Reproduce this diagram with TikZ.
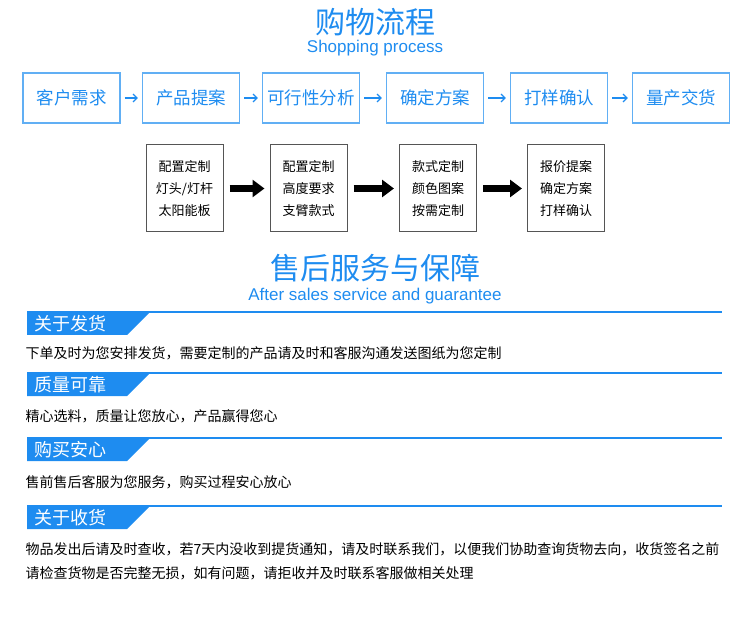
\documentclass[tikz,border=0pt]{standalone}
\usepackage{fontspec}
\usetikzlibrary{arrows.meta}
\setmainfont{Noto Sans CJK SC}
\setsansfont{Liberation Sans}
\definecolor{shopblue}{HTML}{1E8CF0}
\definecolor{boxgray}{HTML}{555555}
\tikzset{
  stepbox/.style={draw=shopblue!70, line width=1.2pt, minimum width=97pt, minimum height=50pt, font=\fontsize{17.5}{17.5}\selectfont, text=shopblue},
  detailbox/.style={draw=boxgray, line width=1pt, minimum width=77pt, minimum height=87pt, font=\fontsize{13}{22}\selectfont, align=center},
  banner/.style={text=white, font=\fontsize{18}{18}\selectfont, anchor=west, inner sep=0pt},
  bodytext/.style={anchor=west, font=\fontsize{14}{24}\selectfont, align=left},
  bigarrow/.style={-{Triangle[length=12pt,width=17pt]}, line width=7pt},
}
\begin{document}
\begin{tikzpicture}[x=1pt,y=-1pt]
\useasboundingbox (0,0) rectangle (750,620);
% titles
\node (title1) at (375,22) {\fontsize{30}{30}\selectfont\color{shopblue}购物流程};
\node (sub1) at (375,48) {\fontsize{17}{17}\selectfont\sffamily\color{shopblue}Shopping process};
% steps
\node[stepbox] (s1) at (71.5,98) {客户需求};
\node[stepbox] (s2) at (191,98) {产品提案};
\node[stepbox] (s3) at (311,98) {可行性分析};
\node[stepbox] (s4) at (435,98) {确定方案};
\node[stepbox] (s5) at (559,98) {打样确认};
\node[stepbox] (s6) at (681,98) {量产交货};
\foreach \a/\b in {s1/s2,s2/s3,s3/s4,s4/s5,s5/s6}
  \draw[shopblue, line width=1.2pt, -{Straight Barb[length=4pt]}, shorten <=4pt, shorten >=4pt] (\a) -- (\b);
% details
\node[detailbox] (d1) at (184.5,188.5) {配置定制\\灯头/灯杆\\太阳能板};
\node[detailbox] (d2) at (308.5,188.5) {配置定制\\高度要求\\支臂款式};
\node[detailbox] (d3) at (438,188.5) {款式定制\\颜色图案\\按需定制};
\node[detailbox] (d4) at (566,188.5) {报价提案\\确定方案\\打样确认};
\foreach \a/\b in {d1/d2,d2/d3,d3/d4}
  \draw[bigarrow, shorten <=6pt, shorten >=5pt] (\a) -- (\b);
% after sales
\node (title2) at (375,268) {\fontsize{30}{30}\selectfont\color{shopblue}售后服务与保障};
\node (sub2) at (375,296) {\fontsize{17}{17}\selectfont\sffamily\color{shopblue}After sales service and guarantee};
\foreach \y/\t in {312/关于发货,373/质量可靠,438/购买安心,506/关于收货}{
  \fill[shopblue] (27,\y) -- (150,\y) -- (127,\y+23) -- (27,\y+23) -- cycle;
  \draw[shopblue, line width=1.8pt] (27,\y) -- (722,\y);
  \node[banner] at (34,\y+12) {\t};
}
\node[bodytext] (t1) at (22,353) {下单及时为您安排发货，需要定制的产品请及时和客服沟通发送图纸为您定制};
\node[bodytext] (t2) at (22,416) {精心选料，质量让您放心，产品赢得您心};
\node[bodytext] (t3) at (22,482) {售前售后客服为您服务，购买过程安心放心};
\node[bodytext] (t4) at (22,561) {物品发出后请及时查收，若7天内没收到提货通知，请及时联系我们，以便我们协助查询货物去向，收货签名之前\\请检查货物是否完整无损，如有问题，请拒收并及时联系客服做相关处理};
\end{tikzpicture}
\end{document}
